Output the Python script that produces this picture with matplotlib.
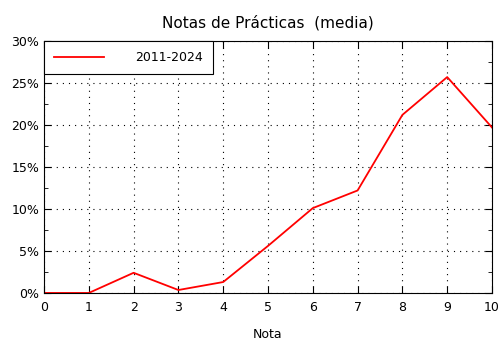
import matplotlib
matplotlib.use("Agg")
import matplotlib.pyplot as plt
from matplotlib.ticker import MultipleLocator, FuncFormatter

# nota (0-10) y porcentaje medio de alumnos
notas = [0, 1, 2, 3, 4, 5, 6, 7, 8, 9, 10]
porcentaje = [0.0, 0.0, 2.4, 0.35, 1.3, 5.6, 10.1, 12.2, 21.2, 25.7, 19.7]
serie = "2011-2024"

fig = plt.figure(figsize=(5, 3.5), dpi=100)
ax = fig.add_axes([0.088, 0.163, 0.896, 0.72])

ax.plot(notas, porcentaje, color="red", lw=1.3, label=serie)

ax.set_xlim(0, 10)
ax.set_ylim(0, 30)
ax.xaxis.set_major_locator(MultipleLocator(1))
ax.yaxis.set_major_locator(MultipleLocator(5))
ax.yaxis.set_minor_locator(MultipleLocator(2.5))
ax.yaxis.set_major_formatter(FuncFormatter(lambda v, p: f"{v:.0f}%"))
ax.tick_params(which="both", direction="in", top=True, right=True, labelsize=9)
ax.tick_params(which="major", length=5)
ax.tick_params(which="minor", length=3)
ax.tick_params(axis="x", pad=6)
ax.grid(True, which="major", color="black", ls=(0, (1, 4.5)), lw=0.8)

ax.set_xlabel("Nota", fontsize=9, labelpad=10)
ax.set_title("Notas de Prácticas  (media)", fontsize=11, pad=10)

leg = ax.legend(loc="upper left", fontsize=9, fancybox=False, framealpha=1,
                edgecolor="black", borderaxespad=0, handlelength=4,
                borderpad=0.8, handletextpad=2.5)
leg.get_frame().set_linewidth(0.8)

fig.savefig("out.png", facecolor="white")
